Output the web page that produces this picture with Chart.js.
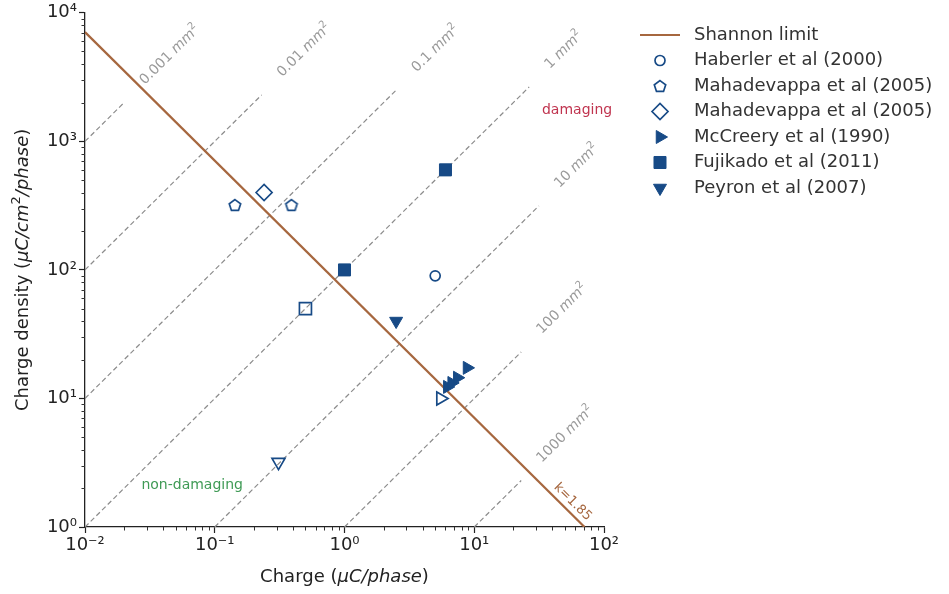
<!DOCTYPE html>
<html>
<head>
<meta charset="utf-8">
<title>Shannon limit</title>
<script src="https://cdn.jsdelivr.net/npm/chart.js@4.4.1/dist/chart.umd.min.js"></script>
<style>
    html, body { margin: 0; padding: 0; background: #fff; }
    #wrap { width: 949px; height: 594px; position: relative; }
</style>
</head>
<body>
<div id="wrap"><canvas id="shannonChart" width="949" height="594"></canvas></div>
<script>
// tick labels (log axes)
const xMajorTicks = [0.01, 0.1, 1, 10, 100];
const xTickLabels = ['10⁻²', '10⁻¹', '10⁰', '10¹', '10²'];
const yMajorTicks = [1, 10, 100, 1000, 10000];
const yTickLabels = ['10⁰', '10¹', '10²', '10³', '10⁴'];

// Shannon limit, k = 1.85 (end points of the straight line)
const shannonQ = [0.01, 70.8];
const shannonD = [7080, 1];

// electrode area lines (mm²): start and end points
const areaNames = ['0.001', '0.01', '0.1', '1', '10', '100', '1000'];
const areaStartQ = [0.01, 0.01, 0.01, 0.01, 0.1, 1, 10];
const areaStartD = [1000, 100, 10, 1, 1, 1, 1];
const areaEndQ = [0.02, 0.23, 2.5, 26.5, 31.5, 23, 23];
const areaEndD = [2000, 2300, 2500, 2650, 315, 23, 2.3];

// studies (charge uC/phase, charge density uC/cm²/phase)
const haberlerQ = [5];
const haberlerD = [90];
const mahaPentQ = [0.143, 0.39];
const mahaPentD = [320, 320];
const mahaDiamQ = [0.24];
const mahaDiamD = [400];
const mccreeryQ = [6.2, 6.7, 7.4, 8.8];
const mccreeryD = [12.3, 13.2, 14.5, 17.3];
const fujikadoQ = [1, 6];
const fujikadoD = [100, 600];
const peyronQ = [2.5];
const peyronD = [40];
// non-damaging points of the same studies (open markers, no legend entry)
const mccreeryOpenQ = [5.5];
const mccreeryOpenD = [10];
const fujikadoOpenQ = [0.5];
const fujikadoOpenD = [50];
const peyronOpenQ = [0.31];
const peyronOpenD = [3.2];

const legendNames = ['Shannon limit', 'Haberler et al (2000)', 'Mahadevappa et al (2005)',
    'Mahadevappa et al (2005)', 'McCreery et al (1990)', 'Fujikado et al (2011)', 'Peyron et al (2007)'];

const BLUE = '#174a86';
const BROWN = '#a6673f';
const GREY = '#8c8c8c';
const FONT = '"DejaVu Sans", sans-serif';

function pts(xs, ys) {
    return xs.map((x, i) => ({ x: x, y: ys[i] }));
}

// pentagon marker, chart.js has no built-in one
function pentagon(size, r, lw, color) {
    const c = document.createElement('canvas');
    c.width = size; c.height = size;
    const g = c.getContext('2d');
    g.beginPath();
    for (let i = 0; i < 5; i++) {
        const a = -Math.PI / 2 + i * 2 * Math.PI / 5;
        const px = size / 2 + r * Math.cos(a);
        const py = size / 2 + r * Math.sin(a) + r * 0.1;
        if (i === 0) g.moveTo(px, py); else g.lineTo(px, py);
    }
    g.closePath();
    g.strokeStyle = color;
    g.lineWidth = lw;
    g.stroke();
    return c;
}
const pentImg = pentagon(16, 6, 1.7, BLUE);

function marker(label, data, style, radius, filled, rotation) {
    return {
        label: label,
        data: data,
        pointStyle: style,
        pointRadius: radius,
        pointRotation: rotation || 0,
        pointBackgroundColor: filled ? BLUE : 'rgba(0,0,0,0)',
        pointBorderColor: BLUE,
        pointBorderWidth: filled ? 1 : 1.7,
        showLine: false
    };
}

const datasets = [
    marker('Haberler et al (2000)', pts(haberlerQ, haberlerD), 'circle', 5, false),
    marker('Mahadevappa et al (2005)', pts(mahaPentQ, mahaPentD), pentImg, 6, false),
    marker('Mahadevappa et al (2005)', pts(mahaDiamQ, mahaDiamD), 'rectRot', 8, false),
    marker('McCreery et al (1990)', pts(mccreeryQ, mccreeryD), 'triangle', 7.5, true, 90),
    marker('Fujikado et al (2011)', pts(fujikadoQ, fujikadoD), 'rect', 8.5, true),
    marker('Peyron et al (2007)', pts(peyronQ, peyronD), 'triangle', 7.5, true, 180),
    marker('McCreery open', pts(mccreeryOpenQ, mccreeryOpenD), 'triangle', 7.5, false, 90),
    marker('Fujikado open', pts(fujikadoOpenQ, fujikadoOpenD), 'rect', 8.5, false),
    marker('Peyron open', pts(peyronOpenQ, peyronOpenD), 'triangle', 7.5, false, 180),
    {
        label: 'Shannon limit',
        data: pts(shannonQ, shannonD),
        showLine: true,
        borderColor: BROWN,
        borderWidth: 2.2,
        pointRadius: 0
    }
];
areaNames.forEach((n, i) => {
    datasets.push({
        label: n + ' mm2',
        data: pts([areaStartQ[i], areaEndQ[i]], [areaStartD[i], areaEndD[i]]),
        showLine: true,
        borderColor: GREY,
        borderWidth: 1.2,
        borderDash: [5, 3],
        pointRadius: 0
    });
});

function fontFor(st, size) {
    if (st === 'i') return 'italic ' + size + 'px ' + FONT;
    if (st === 'sup') return Math.round(size * 0.7) + 'px ' + FONT;
    return size + 'px ' + FONT;
}

// text with italic parts and superscripts, centred on x
function drawRich(ctx, segs, x, y, size, color) {
    let total = 0;
    const parts = segs.map(s => {
        ctx.font = fontFor(s[1], size);
        const w = ctx.measureText(s[0]).width;
        total += w;
        return { t: s[0], st: s[1], w: w };
    });
    let cx = x - total / 2;
    ctx.fillStyle = color;
    ctx.textAlign = 'left';
    ctx.textBaseline = 'alphabetic';
    parts.forEach(p => {
        ctx.font = fontFor(p.st, size);
        ctx.fillText(p.t, cx, p.st === 'sup' ? y - size * 0.42 : y);
        cx += p.w;
    });
    return total;
}

function richWidth(ctx, segs, size) {
    let total = 0;
    segs.forEach(s => { ctx.font = fontFor(s[1], size); total += ctx.measureText(s[0]).width; });
    return total;
}

const annotations = {
    id: 'annotations',
    afterDatasetsDraw(chart) {
        const ctx = chart.ctx;
        const xs = chart.scales.x, ys = chart.scales.y;
        ctx.save();
        // area labels, placed after each line end and rotated along it
        areaNames.forEach((n, i) => {
            const x1 = xs.getPixelForValue(areaStartQ[i]), y1 = ys.getPixelForValue(areaStartD[i]);
            const x2 = xs.getPixelForValue(areaEndQ[i]), y2 = ys.getPixelForValue(areaEndD[i]);
            const ang = Math.atan2(y2 - y1, x2 - x1);
            const segs = [[n + ' ', ''], ['mm', 'i'], ['2', 'sup']];
            const w = richWidth(ctx, segs, 14);
            const d = 27 + w / 2;
            ctx.save();
            ctx.translate(x2 + Math.cos(ang) * d, y2 + Math.sin(ang) * d);
            ctx.rotate(ang);
            drawRich(ctx, segs, 0, 2, 14, '#9a9a9a');
            ctx.restore();
        });
        // k label along the Shannon line
        const sx1 = xs.getPixelForValue(shannonQ[0]), sy1 = ys.getPixelForValue(shannonD[0]);
        const sx2 = xs.getPixelForValue(shannonQ[1]), sy2 = ys.getPixelForValue(shannonD[1]);
        const sa = Math.atan2(sy2 - sy1, sx2 - sx1);
        ctx.save();
        ctx.translate(sx2 - Math.cos(sa) * 26 + Math.sin(sa) * 11, sy2 - Math.sin(sa) * 26 - Math.cos(sa) * 11);
        ctx.rotate(sa);
        drawRich(ctx, [['k=1.85', '']], 0, 5, 13, BROWN);
        ctx.restore();
        // regions
        drawRich(ctx, [['damaging', '']], xs.getPixelForValue(62), ys.getPixelForValue(1780) + 5, 14, '#c0344f');
        drawRich(ctx, [['non-damaging', '']], xs.getPixelForValue(0.067), ys.getPixelForValue(2.15) + 5, 14, '#3f9a55');
        ctx.restore();
    },
    afterDraw(chart) {
        const ctx = chart.ctx;
        const area = chart.chartArea;
        ctx.save();
        // minor ticks
        ctx.strokeStyle = '#333';
        ctx.lineWidth = 1;
        chart.scales.x.ticks.forEach(t => {
            if (t.major) return;
            const px = Math.round(chart.scales.x.getPixelForValue(t.value)) + 0.5;
            ctx.beginPath(); ctx.moveTo(px, area.bottom); ctx.lineTo(px, area.bottom + 3.5); ctx.stroke();
        });
        chart.scales.y.ticks.forEach(t => {
            if (t.major) return;
            const py = Math.round(chart.scales.y.getPixelForValue(t.value)) + 0.5;
            ctx.beginPath(); ctx.moveTo(area.left, py); ctx.lineTo(area.left - 3.5, py); ctx.stroke();
        });
        // axis titles
        drawRich(ctx, [['Charge (', ''], ['μC/phase', 'i'], [')', '']], (area.left + area.right) / 2, 582, 18, '#222');
        ctx.save();
        ctx.translate(28, (area.top + area.bottom) / 2);
        ctx.rotate(-Math.PI / 2);
        drawRich(ctx, [['Charge density (', ''], ['μC/cm', 'i'], ['2', 'sup'], ['/phase', 'i'], [')', '']], 0, 0, 18, '#222');
        ctx.restore();
        // legend
        const lx = 660, tx = 694, ly0 = 35, step = 25.5;
        ctx.strokeStyle = BROWN;
        ctx.lineWidth = 2.2;
        ctx.beginPath(); ctx.moveTo(640, ly0); ctx.lineTo(680, ly0); ctx.stroke();
        ctx.font = '18px ' + FONT;
        ctx.fillStyle = '#333';
        ctx.textAlign = 'left';
        ctx.textBaseline = 'middle';
        ctx.fillText(legendNames[0], tx, ly0);
        for (let i = 0; i < 6; i++) {
            const y = ly0 + step * (i + 1);
            const el = chart.getDatasetMeta(i).data[0];
            if (el && Chart.helpers && Chart.helpers.drawPoint) {
                const o = el.options;
                ctx.save();
                ctx.strokeStyle = o.borderColor;
                ctx.fillStyle = o.backgroundColor;
                ctx.lineWidth = o.borderWidth;
                Chart.helpers.drawPoint(ctx, o, lx, y);
                ctx.restore();
            }
            ctx.font = '18px ' + FONT;
            ctx.fillStyle = '#333';
            ctx.textAlign = 'left';
            ctx.textBaseline = 'middle';
            ctx.fillText(legendNames[i + 1], tx, y);
        }
        ctx.restore();
    }
};

function logTicks(majors) {
    const out = [];
    majors.forEach((m, i) => {
        out.push({ value: m, major: true });
        if (i < majors.length - 1) {
            for (let k = 2; k <= 9; k++) out.push({ value: +(m * k).toPrecision(3), major: false });
        }
    });
    return out;
}

const ctx = document.getElementById('shannonChart').getContext('2d');
const shannonChart = new Chart(ctx, {
    type: 'scatter',
    data: { datasets: datasets },
    options: {
        responsive: false,
        animation: false,
        events: [],
        layout: { padding: { left: 0, right: 345, top: 10, bottom: 0 } },
        scales: {
            x: {
                type: 'logarithmic',
                min: 0.01,
                max: 100,
                afterBuildTicks: s => { s.ticks = logTicks(xMajorTicks); },
                afterFit: s => { s.height = 67; },
                grid: {
                    drawOnChartArea: false,
                    tickLength: 6,
                    tickWidth: 1.2,
                    tickColor: c => (c.tick && c.tick.major) ? '#222' : 'rgba(0,0,0,0)'
                },
                border: { color: '#222', width: 1.3 },
                ticks: {
                    autoSkip: false,
                    maxRotation: 0,
                    padding: 2,
                    color: '#222',
                    font: { family: 'DejaVu Sans', size: 18 },
                    callback: v => {
                        const i = xMajorTicks.indexOf(v);
                        return i >= 0 ? xTickLabels[i] : '';
                    }
                }
            },
            y: {
                type: 'logarithmic',
                min: 1,
                max: 10000,
                afterBuildTicks: s => { s.ticks = logTicks(yMajorTicks); },
                afterFit: s => { s.width = 85; },
                grid: {
                    drawOnChartArea: false,
                    tickLength: 6,
                    tickWidth: 1.2,
                    tickColor: c => (c.tick && c.tick.major) ? '#222' : 'rgba(0,0,0,0)'
                },
                border: { color: '#222', width: 1.3 },
                ticks: {
                    autoSkip: false,
                    padding: 2,
                    color: '#222',
                    font: { family: 'DejaVu Sans', size: 18 },
                    callback: v => {
                        const i = yMajorTicks.indexOf(v);
                        return i >= 0 ? yTickLabels[i] : '';
                    }
                }
            }
        },
        plugins: {
            legend: { display: false },
            tooltip: { enabled: false }
        }
    },
    plugins: [annotations]
});
</script>
</body>
</html>
